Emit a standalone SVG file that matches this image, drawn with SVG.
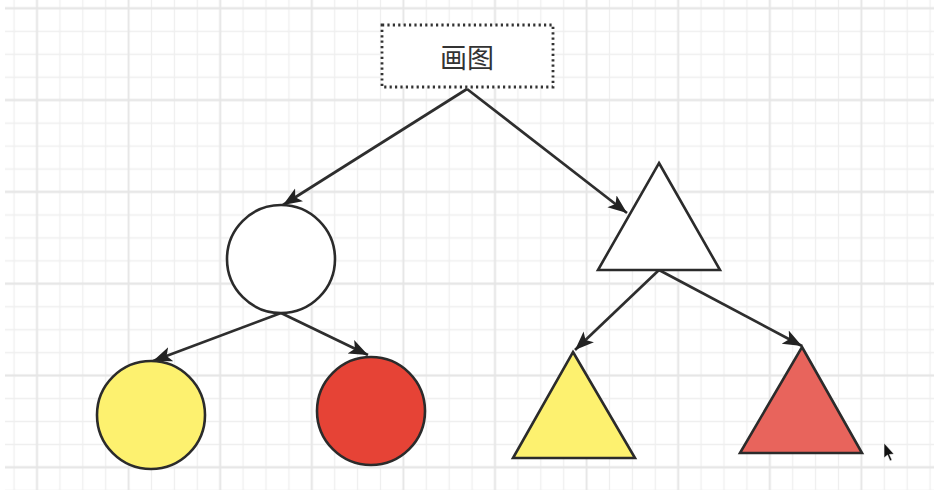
<svg xmlns="http://www.w3.org/2000/svg" width="934" height="490" viewBox="0 0 934 490">
  <style>
    .shape { stroke: #2b2b2b; stroke-width: 2.6; stroke-linejoin: miter; }
    .conn { stroke: #2e2e2e; stroke-width: 2.7; fill: none; marker-end: url(#arr); }
    .lbl { font-family: "Noto Sans CJK SC", "Noto Sans", sans-serif; font-size: 27px; fill: #333; text-anchor: middle; dominant-baseline: central; }
  </style>
  <defs>
    <pattern id="minor" patternUnits="userSpaceOnUse" x="25.55" y="-3.05" width="22.9" height="22.95">
      <path d="M11.45 0 V22.95 M0 11.45 H22.9" stroke="#efefef" stroke-width="1.3" fill="none"/>
    </pattern>
    <pattern id="major" patternUnits="userSpaceOnUse" x="25.55" y="88.55" width="91.6" height="91.8">
      <path d="M11.45 0 V91.8 M0 11.45 H91.6" stroke="#e6e6e6" stroke-width="1.8" fill="none"/>
    </pattern>
    <marker id="arr" markerUnits="userSpaceOnUse" markerWidth="22" markerHeight="18" refX="19" refY="8" orient="auto">
      <path d="M0,0.5 L19,8 L0,15.5 L4.5,8 z" fill="#222"/>
    </marker>
  </defs>
  <rect x="0" y="0" width="934" height="490" fill="#ffffff"/>
  <g id="grid">
    <rect x="5" y="0" width="929" height="490" fill="url(#minor)"/>
    <rect x="5" y="0" width="929" height="490" fill="url(#major)"/>
  </g>
  <g id="connectors">
    <line class="conn" x1="467" y1="89" x2="283" y2="205"/>
    <line class="conn" x1="467" y1="89" x2="627" y2="213"/>
    <line class="conn" x1="281" y1="313" x2="153" y2="361"/>
    <line class="conn" x1="281" y1="313" x2="368" y2="355"/>
    <line class="conn" x1="659" y1="270" x2="575" y2="350"/>
    <line class="conn" x1="659" y1="270" x2="802" y2="346"/>
  </g>
  <g id="root">
    <rect x="382" y="25" width="171" height="62" fill="#ffffff" stroke="#333" stroke-width="2.8" stroke-dasharray="2.2 3.2"/>
    <text class="lbl" x="467" y="56">画图</text>
  </g>
  <g id="circle-white">
    <circle class="shape" cx="281" cy="259" r="54" fill="#ffffff"/>
  </g>
  <g id="triangle-white">
    <polygon class="shape" points="659,163 720,270 598,270" fill="#ffffff"/>
  </g>
  <g id="circle-yellow">
    <circle class="shape" cx="151" cy="415" r="54" fill="#fdf16f"/>
  </g>
  <g id="circle-red">
    <circle class="shape" cx="371" cy="411" r="54" fill="#e64336"/>
  </g>
  <g id="triangle-yellow">
    <polygon class="shape" points="573,352 635,458 513,458" fill="#fdf16f"/>
  </g>
  <g id="triangle-red">
    <polygon class="shape" points="802,347 862,453 740,453" fill="#e8645c"/>
  </g>
  <g id="cursor">
    <path d="M884,443 L884,458 L887.5,455 L890,461 L892,460 L889.5,454.5 L894,454 z" fill="#111" stroke="#fff" stroke-width="0.6"/>
  </g>
</svg>
